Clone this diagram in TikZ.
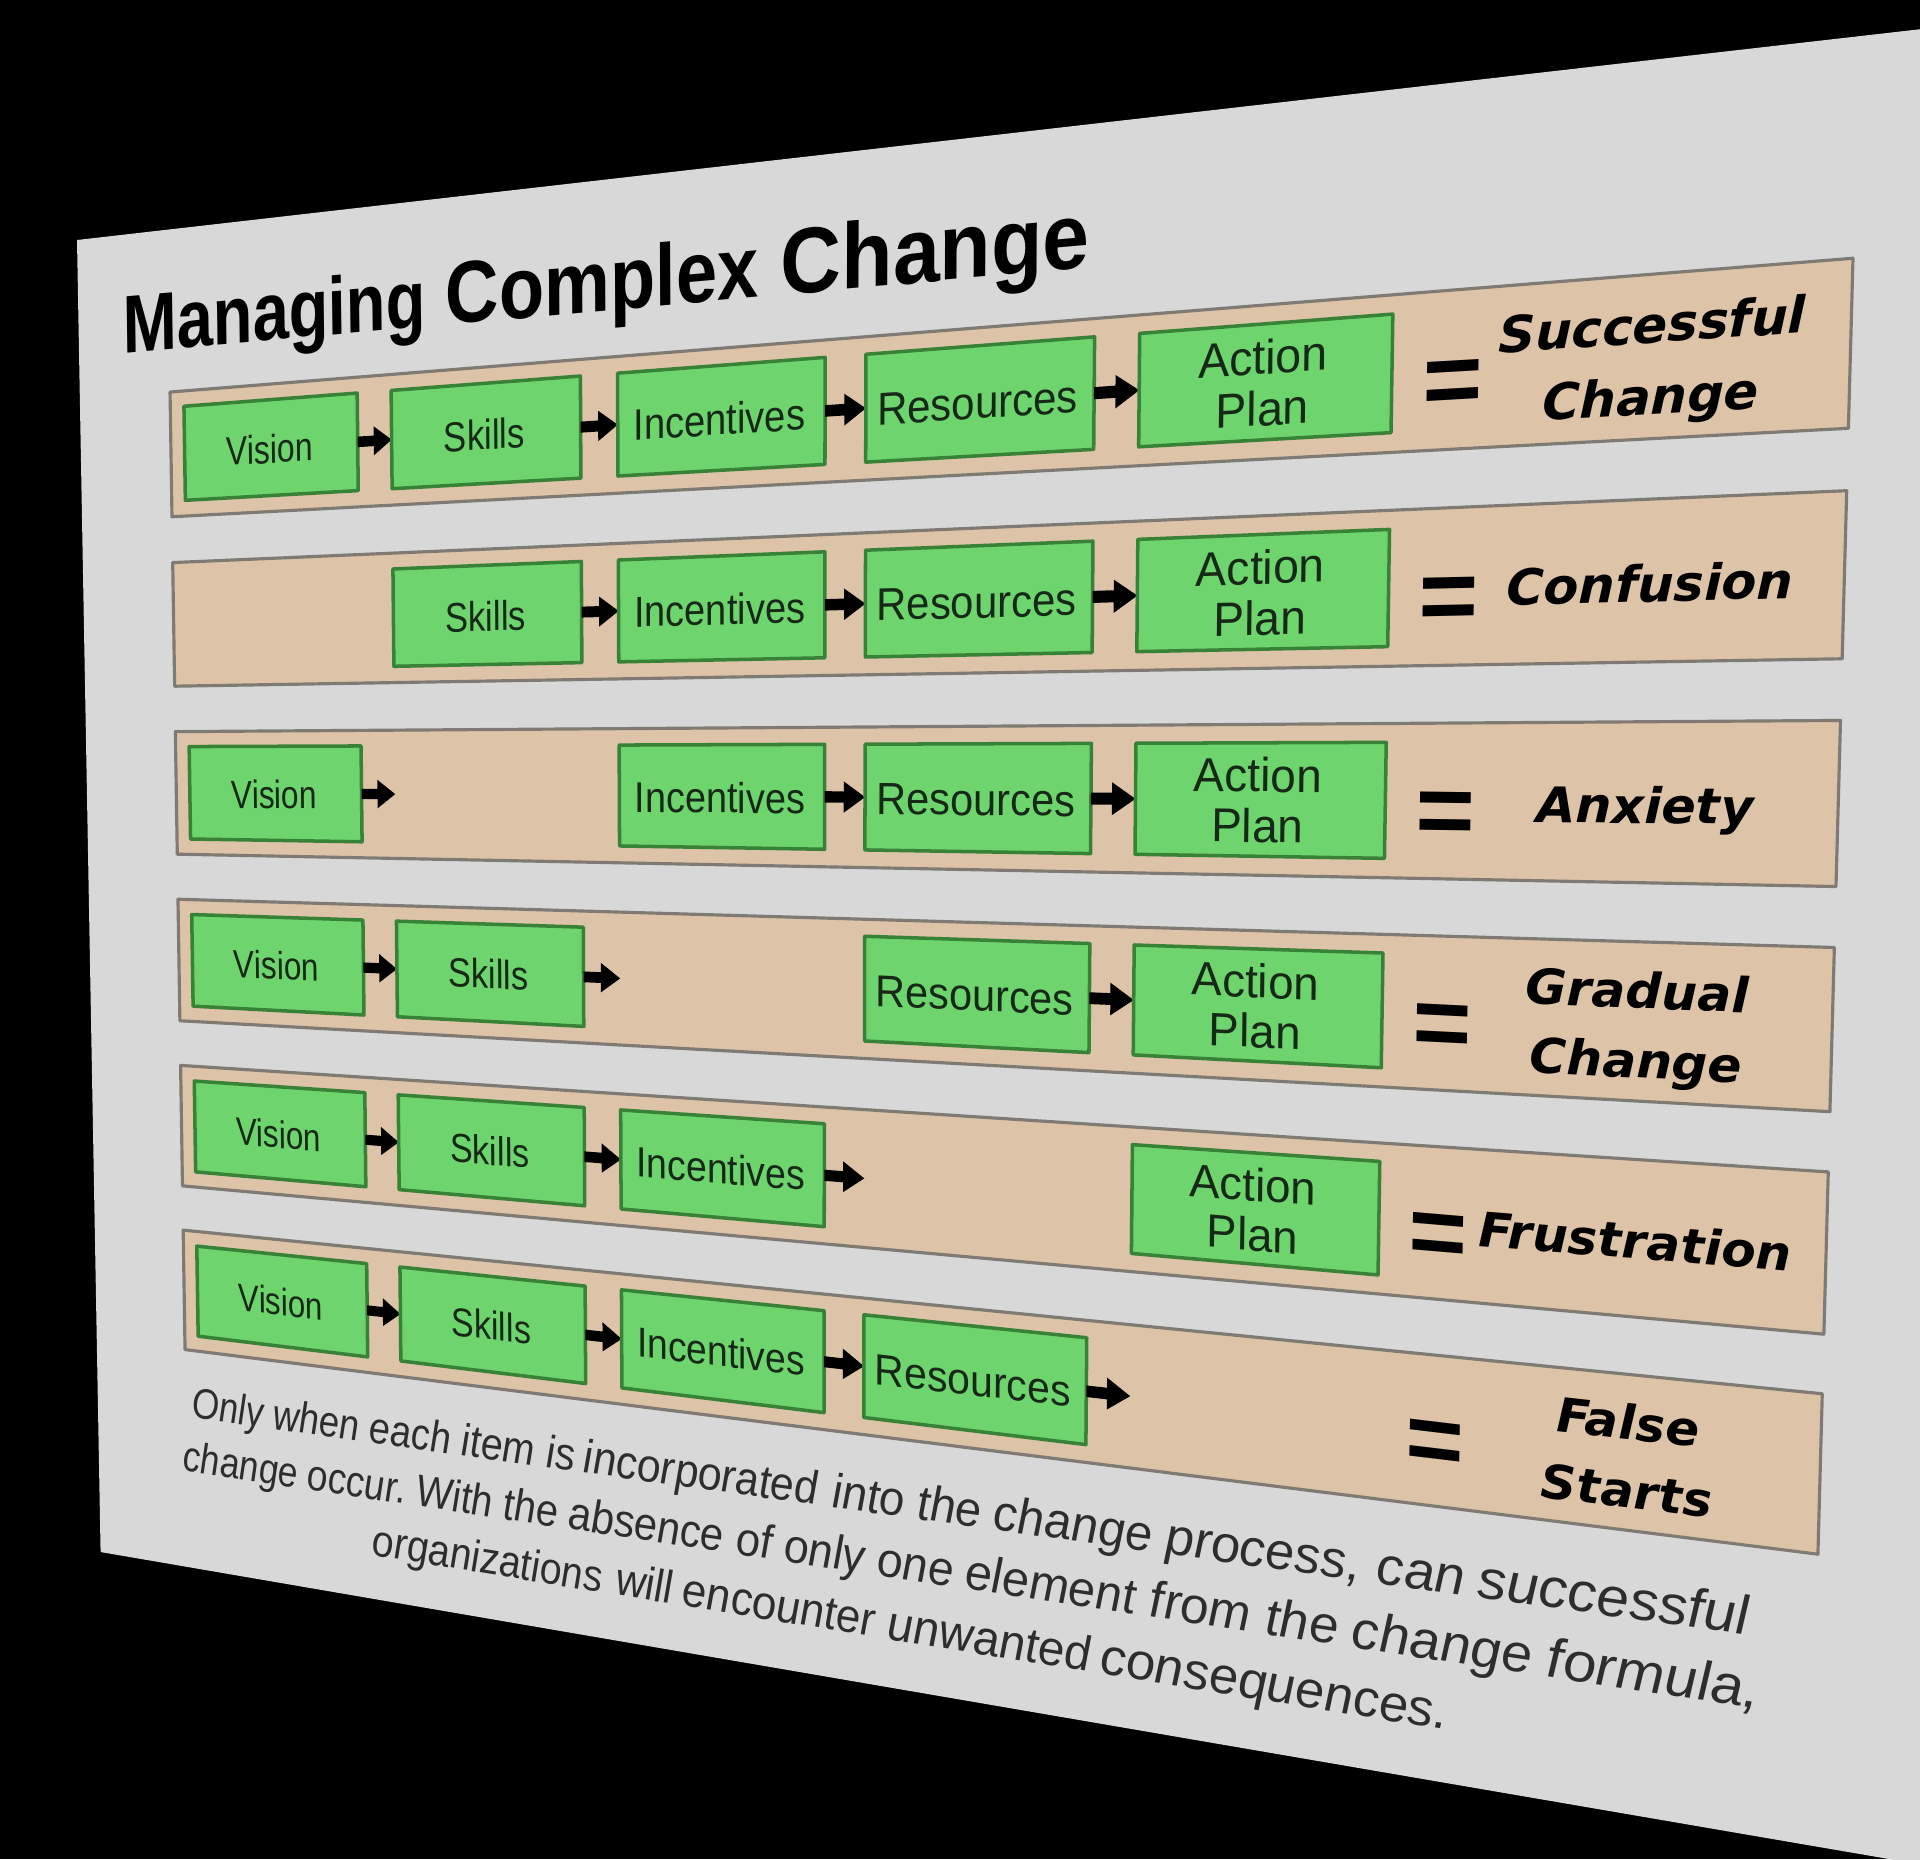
\documentclass[tikz,border=0pt]{standalone}
\usepackage{fontspec}
\setmainfont{Liberation Sans}
\newfontfamily\resfont{DejaVu Sans}[BoldItalicFont={DejaVu Sans Bold Oblique}]
\definecolor{slidegray}{RGB}{216,216,216}
\definecolor{bandfill}{RGB}{221,195,167}
\definecolor{bandline}{RGB}{128,122,116}
\definecolor{boxfill}{RGB}{110,212,110}
\definecolor{boxline}{RGB}{56,130,56}
\definecolor{boxtext}{RGB}{22,40,22}
\definecolor{paratext}{RGB}{45,45,45}
\tikzset{
  bandstyle/.style={fill=bandfill,draw=bandline,line width=0.9pt,line join=round},
  boxstyle/.style={fill=boxfill,draw=boxline,line width=1pt,line join=round},
  arrowstyle/.style={fill=black},
  slidestyle/.style={fill=slidegray}
}
% homography: slide (X,Y) in pt (720x540) -> image pixels
\def\HomW#1#2{(1-0.00041641*(#1)+0.000063717*(#2))}
\def\HomX#1#2{((77+1.87218*(#1)+0.050082*(#2))/\HomW{#1}{#2})}
\def\HomY#1#2{((240-0.317721*(#1)+2.52855*(#2))/\HomW{#1}{#2})}
\newcommand\HPt[3]{%
  \edef\HPtx{\fpeval{round(\HomX{#2}{#3},2)}}%
  \edef\HPty{\fpeval{round(\HomY{#2}{#3},2)}}%
  \coordinate (#1) at (\HPtx,\HPty);}
\newcommand\HQuad[6]{%
  \HPt{#1-a}{#2}{#3}\HPt{#1-b}{#4}{#3}\HPt{#1-c}{#4}{#5}\HPt{#1-d}{#2}{#5}%
  \path[#6] (#1-a) -- (#1-b) -- (#1-c) -- (#1-d) -- cycle;}
\newcommand\PText[4]{%
  \edef\PTx{#1}\edef\PTy{#2}%
  \edef\PTxo{\fpeval{round(\HomX{\PTx}{\PTy},3)}}%
  \edef\PTyo{\fpeval{round(\HomY{\PTx}{\PTy},3)}}%
  \edef\PTa{\fpeval{round(0.284528*(\HomX{\PTx+1}{\PTy}-\HomX{\PTx}{\PTy}),5)}}%
  \edef\PTb{\fpeval{round(-0.284528*(\HomY{\PTx+1}{\PTy}-\HomY{\PTx}{\PTy}),5)}}%
  \edef\PTc{\fpeval{round(-0.284528*(\HomX{\PTx}{\PTy+1}-\HomX{\PTx}{\PTy}),5)}}%
  \edef\PTd{\fpeval{round(0.284528*(\HomY{\PTx}{\PTy+1}-\HomY{\PTx}{\PTy}),5)}}%
  \begin{scope}[shift={(\PTxo,\PTyo)},cm={\PTa,\PTb,\PTc,\PTd,(0,0)}]
    \node[transform shape,anchor=base,inner sep=0pt,outer sep=0pt,#3] at (0,0) {#4};
  \end{scope}}
\ExplSyntaxOn
\fp_new:N \l_pl_x_fp
\box_new:N \l_pl_box
\box_new:N \l_pl_w_box
\dim_new:N \l_pl_sp_dim
\seq_new:N \l_pl_seq
\NewDocumentCommand \PLine { m m m m m }
 {
  \hbox_set:Nn \l_pl_box { \pgfinterruptpicture #4 #5 \endpgfinterruptpicture }
  \hbox_set:Nn \l_pl_w_box { \pgfinterruptpicture #4 a~a \endpgfinterruptpicture }
  \dim_set:Nn \l_pl_sp_dim { \box_wd:N \l_pl_w_box }
  \hbox_set:Nn \l_pl_w_box { \pgfinterruptpicture #4 aa \endpgfinterruptpicture }
  \dim_sub:Nn \l_pl_sp_dim { \box_wd:N \l_pl_w_box }
  \str_if_eq:nnTF { #1 } { c }
   { \fp_set:Nn \l_pl_x_fp { #2 - \dim_to_fp:n { \box_wd:N \l_pl_box } / 2 } }
   { \fp_set:Nn \l_pl_x_fp { #2 } }
  \seq_set_split:Nnn \l_pl_seq { ~ } { #5 }
  \seq_map_inline:Nn \l_pl_seq
   {
    \hbox_set:Nn \l_pl_w_box { \pgfinterruptpicture #4 ##1 \endpgfinterruptpicture }
    \PText { \fp_eval:n { \l_pl_x_fp + \dim_to_fp:n { \box_wd:N \l_pl_w_box } / 2 } } { #3 } { } { #4 ##1 }
    \fp_add:Nn \l_pl_x_fp { \dim_to_fp:n { \box_wd:N \l_pl_w_box } + \dim_to_fp:n { \l_pl_sp_dim } }
   }
 }
\ExplSyntaxOff
\newcommand\fTitle{\fontsize{31.4}{36}\selectfont\bfseries\color{black}}
\newcommand\fBox{\fontsize{15.5}{17}\selectfont\color{boxtext}}
\newcommand\fRes{\resfont\bfseries\itshape\fontsize{15}{20}\selectfont\color{black}}
\newcommand\fEq{\fontsize{32}{36}\selectfont\bfseries\color{black}}
\newcommand\fPara{\fontsize{17.7}{22}\selectfont\itshape\color{paratext}}
% rows
\newcommand\Band[1]{%
  \edef\bT{\fpeval{63.6+67.36*(#1)}}%
  \HQuad{band#1}{46.6}{\bT}{673.4}{\bT+49.2}{bandstyle}}
\newcommand\GBoxShape[2]{%
  \edef\bT{\fpeval{63.6+67.36*(#1)}}%
  \HQuad{box#1#2}{53.5+100*(#2)}{\bT+6}{137.7+100*(#2)}{\bT+43}{boxstyle}}
\newcommand\GBox[3]{\GBoxShape{#1}{#2}%
  \PText{\fpeval{95.6+100*(#2)}}{\fpeval{\bT+30.5}}{}{\fBox #3}}
\newcommand\GPlan[1]{\GBoxShape{#1}{4}%
  \PText{495.6}{\fpeval{\bT+22}}{}{\fBox Action}%
  \PText{495.6}{\fpeval{\bT+38.5}}{}{\fBox Plan}}
\newcommand\GArrow[2]{%
  \edef\bT{\fpeval{63.6+67.36*(#1)}}%
  \edef\aC{\fpeval{\bT+24.5}}%
  \edef\aX{\fpeval{137.7+100*(#2)}}%
  \HPt{ar#1#2-1}{\aX}{\aC-2}%
  \HPt{ar#1#2-2}{\aX+7.5}{\aC-2}%
  \HPt{ar#1#2-3}{\aX+7.5}{\aC-5.5}%
  \HPt{ar#1#2-4}{\aX+15.8}{\aC}%
  \HPt{ar#1#2-5}{\aX+7.5}{\aC+5.5}%
  \HPt{ar#1#2-6}{\aX+7.5}{\aC+2}%
  \HPt{ar#1#2-7}{\aX}{\aC+2}%
  \path[arrowstyle] (ar#1#2-1) -- (ar#1#2-2) -- (ar#1#2-3) -- (ar#1#2-4) -- (ar#1#2-5) -- (ar#1#2-6) -- (ar#1#2-7) -- cycle;}
\newcommand\EqSign[1]{%
  \edef\bT{\fpeval{63.6+67.36*(#1)}}%
  \PText{557}{\fpeval{\bT+38.5}}{}{\fEq =}}
\newcommand\ResOne[2]{%
  \edef\bT{\fpeval{63.6+67.36*(#1)}}%
  \PText{618}{\fpeval{\bT+31}}{}{\fRes #2}}
\newcommand\ResTwo[3]{%
  \edef\bT{\fpeval{63.6+67.36*(#1)}}%
  \PText{617}{\fpeval{\bT+20.5}}{}{\fRes #2}%
  \PText{617}{\fpeval{\bT+42}}{}{\fRes #3}}
\begin{document}
\begin{tikzpicture}[x=0.01cm,y=-0.01cm]
\useasboundingbox (0,0) rectangle (1920,1859);
\begin{scope}
\clip (0,0) rectangle (1920,1859);
\fill[black] (0,0) rectangle (1920,1859);
\HQuad{slide}{0}{0}{720}{540}{slidestyle}
\PLine{l}{25.5}{46.8}{\fTitle}{Managing Complex Change}
% row 0
\Band{0}
\GBox{0}{0}{Vision}\GArrow{0}{0}
\GBox{0}{1}{Skills}\GArrow{0}{1}
\GBox{0}{2}{Incentives}\GArrow{0}{2}
\GBox{0}{3}{Resources}\GArrow{0}{3}
\GPlan{0}
\EqSign{0}\ResTwo{0}{Successful}{Change}
% row 1
\Band{1}
\GBox{1}{1}{Skills}\GArrow{1}{1}
\GBox{1}{2}{Incentives}\GArrow{1}{2}
\GBox{1}{3}{Resources}\GArrow{1}{3}
\GPlan{1}
\EqSign{1}\ResOne{1}{Confusion}
% row 2
\Band{2}
\GBox{2}{0}{Vision}\GArrow{2}{0}
\GBox{2}{2}{Incentives}\GArrow{2}{2}
\GBox{2}{3}{Resources}\GArrow{2}{3}
\GPlan{2}
\EqSign{2}\ResOne{2}{Anxiety}
% row 3
\Band{3}
\GBox{3}{0}{Vision}\GArrow{3}{0}
\GBox{3}{1}{Skills}\GArrow{3}{1}
\GBox{3}{3}{Resources}\GArrow{3}{3}
\GPlan{3}
\EqSign{3}\ResTwo{3}{Gradual}{Change}
% row 4
\Band{4}
\GBox{4}{0}{Vision}\GArrow{4}{0}
\GBox{4}{1}{Skills}\GArrow{4}{1}
\GBox{4}{2}{Incentives}\GArrow{4}{2}
\GPlan{4}
\EqSign{4}\ResOne{4}{Frustration}
% row 5
\Band{5}
\GBox{5}{0}{Vision}\GArrow{5}{0}
\GBox{5}{1}{Skills}\GArrow{5}{1}
\GBox{5}{2}{Incentives}\GArrow{5}{2}
\GBox{5}{3}{Resources}\GArrow{5}{3}
\EqSign{5}\ResTwo{5}{False}{Starts}
% paragraph
\PLine{c}{352.5}{477.5}{\fPara}{Only when each item is incorporated into the change process, can successful}
\PLine{c}{352.5}{500}{\fPara}{change occur. With the absence of only one element from the change formula,}
\PLine{c}{352.5}{522.5}{\fPara}{organizations will encounter unwanted consequences.}
\end{scope}
\end{tikzpicture}
\end{document}
